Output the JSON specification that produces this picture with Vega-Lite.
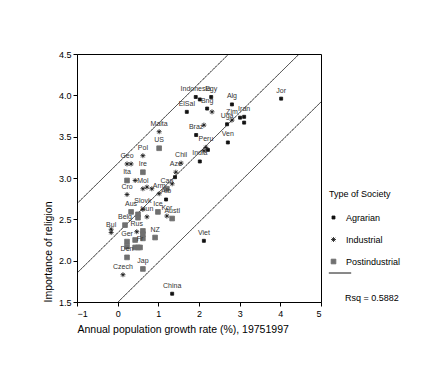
{
  "$schema": "https://vega.github.io/schema/vega-lite/v6.json",
  "width": 244,
  "height": 248,
  "autosize": {"type": "none"},
  "padding": {"left": 77, "top": 54, "right": 125, "bottom": 76},
  "background": "white",
  "config": {
    "font": "Liberation Sans",
    "view": {"stroke": "black", "strokeWidth": 1},
    "axis": {
      "grid": false,
      "domainColor": "black",
      "tickColor": "black",
      "labelColor": "black",
      "titleColor": "black",
      "labelFontSize": 9,
      "titleFontSize": 10.5,
      "titleFontWeight": "normal",
      "tickSize": 4,
      "labelFont": "Liberation Sans",
      "titleFont": "Liberation Sans"
    },
    "legend": {
      "labelFont": "Liberation Sans",
      "titleFont": "Liberation Sans",
      "labelColor": "black",
      "titleColor": "black",
      "labelFontSize": 9,
      "titleFontSize": 9,
      "titleFontWeight": "normal",
      "padding": 0
    }
  },
  "datasets": {
    "fit": [
      {"band": "upper", "fit": "Fit", "stat": "Rsq", "x": -1, "y": 2.69},
      {"band": "upper", "fit": "Fit", "stat": "Rsq", "x": 5, "y": 5.60},
      {"band": "mid", "fit": "Fit", "stat": "Rsq", "x": -1, "y": 1.85},
      {"band": "mid", "fit": "Fit", "stat": "Rsq", "x": 5, "y": 4.76},
      {"band": "lower", "fit": "Fit", "stat": "Rsq", "x": -1, "y": 1.01},
      {"band": "lower", "fit": "Fit", "stat": "Rsq", "x": 5, "y": 3.92}
    ],
    "pts": [
      {"type": "Agrarian", "label": "Indonesia", "x": 1.92, "y": 3.98},
      {"type": "Agrarian", "label": "", "x": 2.02, "y": 3.95},
      {"type": "Agrarian", "label": "Egy", "x": 2.30, "y": 3.98},
      {"type": "Agrarian", "label": "Bng", "x": 2.20, "y": 3.84},
      {"type": "Industrial", "label": "", "x": 2.32, "y": 3.80},
      {"type": "Agrarian", "label": "ElSal", "x": 1.70, "y": 3.80},
      {"type": "Agrarian", "label": "Alg", "x": 2.81, "y": 3.89},
      {"type": "Agrarian", "label": "Jor", "x": 4.02, "y": 3.96},
      {"type": "Agrarian", "label": "Iran", "x": 3.11, "y": 3.74},
      {"type": "Agrarian", "label": "", "x": 3.01, "y": 3.73},
      {"type": "Industrial", "label": "Zim", "x": 2.81, "y": 3.70},
      {"type": "Agrarian", "label": "Uga", "x": 2.69, "y": 3.65},
      {"type": "Agrarian", "label": "", "x": 3.11, "y": 3.67},
      {"type": "Industrial", "label": "", "x": 2.12, "y": 3.64},
      {"type": "Agrarian", "label": "Braz", "x": 1.93, "y": 3.52},
      {"type": "Industrial", "label": "Peru", "x": 2.17, "y": 3.37},
      {"type": "Agrarian", "label": "", "x": 2.22, "y": 3.34},
      {"type": "Industrial", "label": "", "x": 2.12, "y": 3.33},
      {"type": "Agrarian", "label": "India", "x": 2.02, "y": 3.20},
      {"type": "Agrarian", "label": "Ven", "x": 2.71, "y": 3.43},
      {"type": "Industrial", "label": "Malta", "x": 1.02, "y": 3.56},
      {"type": "Postindustrial", "label": "US", "x": 1.02, "y": 3.36},
      {"type": "Industrial", "label": "Pol", "x": 0.62, "y": 3.27},
      {"type": "Industrial", "label": "Geo", "x": 0.23, "y": 3.17},
      {"type": "Industrial", "label": "", "x": 0.33, "y": 3.17},
      {"type": "Postindustrial", "label": "Ire", "x": 0.62, "y": 3.07},
      {"type": "Postindustrial", "label": "Ita", "x": 0.23, "y": 2.97},
      {"type": "Industrial", "label": "", "x": 0.43, "y": 2.97},
      {"type": "Industrial", "label": "Mol", "x": 0.62, "y": 2.87},
      {"type": "Industrial", "label": "", "x": 0.72, "y": 2.89},
      {"type": "Industrial", "label": "", "x": 0.84, "y": 2.87},
      {"type": "Industrial", "label": "Cro", "x": 0.23, "y": 2.80},
      {"type": "Industrial", "label": "Arm", "x": 1.02, "y": 2.81},
      {"type": "Postindustrial", "label": "Can", "x": 1.21, "y": 2.87},
      {"type": "Agrarian", "label": "Alb", "x": 1.19, "y": 2.74},
      {"type": "Industrial", "label": "Aze", "x": 1.43, "y": 3.07},
      {"type": "Industrial", "label": "Chil", "x": 1.56, "y": 3.18},
      {"type": "Agrarian", "label": "", "x": 1.41, "y": 3.01},
      {"type": "Industrial", "label": "", "x": 1.34, "y": 2.93},
      {"type": "Postindustrial", "label": "Aus", "x": 0.33, "y": 2.59},
      {"type": "Industrial", "label": "Slovk", "x": 0.62, "y": 2.62},
      {"type": "Postindustrial", "label": "", "x": 0.50, "y": 2.56},
      {"type": "Postindustrial", "label": "", "x": 0.50, "y": 2.52},
      {"type": "Industrial", "label": "Hun", "x": 0.72, "y": 2.53},
      {"type": "Postindustrial", "label": "Ice", "x": 0.99, "y": 2.59},
      {"type": "Industrial", "label": "Kor", "x": 1.21, "y": 2.54},
      {"type": "Postindustrial", "label": "Austl", "x": 1.34, "y": 2.51},
      {"type": "Industrial", "label": "Bul", "x": -0.16, "y": 2.34},
      {"type": "Industrial", "label": "", "x": -0.16, "y": 2.38},
      {"type": "Postindustrial", "label": "Belg", "x": 0.18, "y": 2.43},
      {"type": "Industrial", "label": "Rus", "x": 0.47, "y": 2.35},
      {"type": "Postindustrial", "label": "", "x": 0.62, "y": 2.36},
      {"type": "Postindustrial", "label": "", "x": 0.62, "y": 2.32},
      {"type": "Postindustrial", "label": "", "x": 0.62, "y": 2.27},
      {"type": "Postindustrial", "label": "", "x": 0.43, "y": 2.25},
      {"type": "Postindustrial", "label": "Ger", "x": 0.23, "y": 2.23},
      {"type": "Postindustrial", "label": "Fr", "x": 0.55, "y": 2.16},
      {"type": "Postindustrial", "label": "", "x": 0.43, "y": 2.16},
      {"type": "Postindustrial", "label": "", "x": 0.50, "y": 2.16},
      {"type": "Postindustrial", "label": "", "x": 0.23, "y": 2.17},
      {"type": "Postindustrial", "label": "Den", "x": 0.23, "y": 2.04},
      {"type": "Postindustrial", "label": "NZ", "x": 0.92, "y": 2.28},
      {"type": "Industrial", "label": "Czech", "x": 0.13, "y": 1.83},
      {"type": "Postindustrial", "label": "Jap", "x": 0.62, "y": 1.90},
      {"type": "Agrarian", "label": "Viet", "x": 2.12, "y": 2.24},
      {"type": "Agrarian", "label": "China", "x": 1.34, "y": 1.60}
    ]
  },
  "encoding": {
    "x": {
      "field": "x",
      "type": "quantitative",
      "scale": {"domain": [-1, 5], "nice": false, "zero": false},
      "axis": {
        "values": [-1, 0, 1, 2, 3, 4, 5],
        "title": "Annual population growth rate (%), 19751997",
        "titleAnchor": "start",
        "labelPadding": 3,
        "titlePadding": 6
      }
    },
    "y": {
      "field": "y",
      "type": "quantitative",
      "scale": {"domain": [1.5, 4.5], "nice": false, "zero": false},
      "axis": {
        "values": [1.5, 2, 2.5, 3, 3.5, 4, 4.5],
        "format": ".1f",
        "title": "Importance of religion",
        "titleAnchor": "start",
        "labelPadding": 2,
        "titlePadding": 5
      }
    }
  },
  "layer": [
    {
      "data": {"name": "fit"},
      "mark": {"type": "line", "clip": true, "color": "black", "strokeWidth": 0.8},
      "encoding": {
        "detail": {"field": "band", "type": "nominal"},
        "strokeDash": {
          "field": "fit",
          "type": "nominal",
          "scale": {"range": [[1, 0]]},
          "legend": {
            "title": null,
            "labelExpr": "''",
            "orient": "none",
            "legendX": 251,
            "legendY": 207,
            "symbolType": "stroke",
            "symbolSize": 500,
            "symbolStrokeWidth": 1,
            "symbolStrokeColor": "black"
          }
        },
        "opacity": {
          "field": "stat",
          "type": "ordinal",
          "scale": {"range": [1, 1]},
          "legend": {
            "title": "Rsq = 0.5882",
            "labelExpr": "''",
            "orient": "none",
            "legendX": 268,
            "legendY": 240,
            "symbolOpacity": 0,
            "symbolSize": 0,
            "symbolStrokeWidth": 0,
            "symbolStrokeColor": "white",
            "titlePadding": 0
          }
        }
      }
    },
    {
      "data": {"name": "pts"},
      "mark": {"type": "point", "size": 25, "strokeWidth": 0.8, "opacity": 1, "filled": true},
      "encoding": {
        "shape": {
          "field": "type",
          "type": "nominal",
          "scale": {
            "domain": ["Agrarian", "Industrial", "Postindustrial"],
            "range": [
              "M-0.6,-0.6H0.6V0.6H-0.6Z",
              "M-1,0H1M0,-1V1M-0.7,-0.7L0.7,0.7M-0.7,0.7L0.7,-0.7",
              "M-0.95,-0.95H0.95V0.95H-0.95Z"
            ]
          },
          "legend": {
            "title": "Type of Society",
            "orient": "none",
            "legendX": 252,
            "legendY": 136,
            "symbolSize": 25,
            "symbolStrokeWidth": 0.8,
            "titlePadding": 14,
            "rowPadding": 12,
            "labelOffset": 8
          }
        },
        "fill": {
          "field": "type",
          "type": "nominal",
          "scale": {"domain": ["Agrarian", "Industrial", "Postindustrial"], "range": ["#111111", "#111111", "#707070"]},
          "legend": {
            "title": "Type of Society",
            "orient": "none",
            "legendX": 252,
            "legendY": 136,
            "symbolSize": 25,
            "symbolStrokeWidth": 0.8,
            "titlePadding": 14,
            "rowPadding": 12,
            "labelOffset": 8
          }
        },
        "stroke": {
          "field": "type",
          "type": "nominal",
          "scale": {"domain": ["Agrarian", "Industrial", "Postindustrial"], "range": ["#111111", "#111111", "#707070"]},
          "legend": {
            "title": "Type of Society",
            "orient": "none",
            "legendX": 252,
            "legendY": 136,
            "symbolSize": 25,
            "symbolStrokeWidth": 0.8,
            "titlePadding": 14,
            "rowPadding": 12,
            "labelOffset": 8
          }
        }
      }
    },
    {
      "data": {"name": "pts"},
      "transform": [{"filter": "datum.label != ''"}],
      "mark": {"type": "text", "fontSize": 7, "dy": -8, "align": "center", "baseline": "middle", "color": "#333333", "font": "Liberation Sans"},
      "encoding": {
        "text": {"field": "label", "type": "nominal"}
      }
    }
  ]
}
